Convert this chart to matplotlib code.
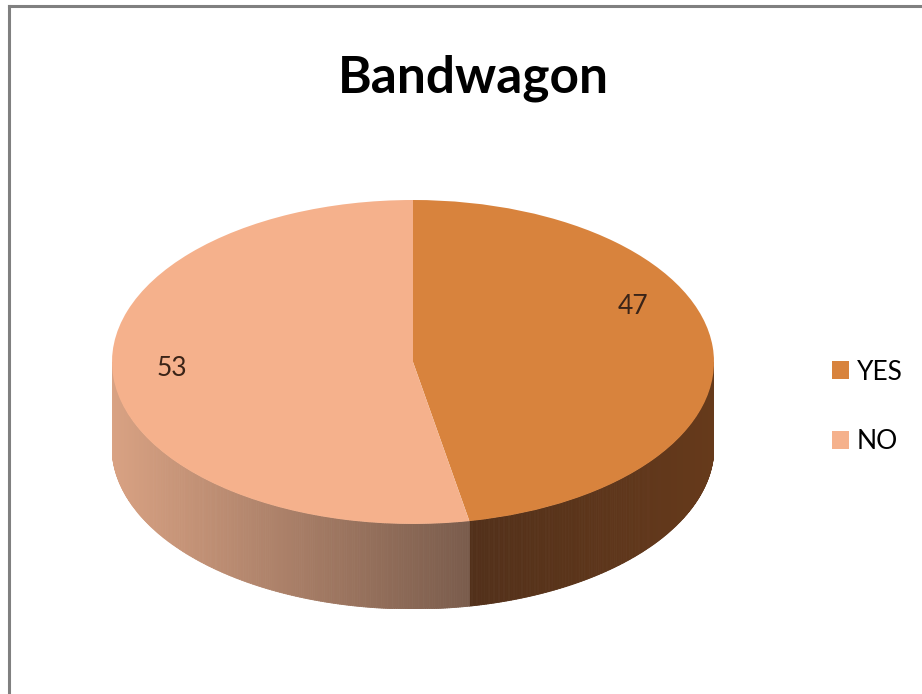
import matplotlib.pyplot as plt
import numpy as np
from matplotlib.collections import PolyCollection
from matplotlib.colors import to_rgb
from matplotlib.lines import Line2D

labels = ['YES', 'NO']
values = [47, 53]
top_colors = ['#D8833D', '#F5B18C']
# rim shading: colour at the left end and right end of each slice's visible side
side_colors = [('#52301A', '#663A1B'), ('#D9A283', '#7A5C4C')]
label_pos = [(0.73, 0.345), (-0.80, -0.04)]

depth = 0.525  # thickness of the disc, in units of the vertical radius

fig = plt.figure(figsize=(9.22, 6.94), dpi=100)
fig.patch.set_facecolor('white')

# axes sized so the unit circle maps onto the flattened top face
ax = fig.add_axes([112 / 922, (694 - 609) / 694, 602 / 922, 409 / 694])

wedges, _ = ax.pie(values, colors=top_colors, startangle=90, counterclock=False,
                   radius=1, wedgeprops=dict(linewidth=0, zorder=3))
ax.set_aspect('auto')
ax.set_xlim(-1, 1)
ax.set_ylim(-1 - depth, 1)
ax.axis('off')

# side wall of the disc, only the front half (angles -180..0) is visible
fracs = np.array(values) / sum(values)
start = 90.0
for frac, (c0, c1) in zip(fracs, side_colors):
    hi = start
    lo = start - frac * 360
    start = lo
    for shift in (0, 360, -360):
        a = max(lo + shift, -180)
        b = min(hi + shift, 0)
        if a >= b:
            continue
        t = np.radians(np.linspace(a, b, 240))
        xs, ys = np.cos(t), np.sin(t)
        # colour follows horizontal position across the slice
        x_lo, x_hi = xs.min(), xs.max()
        rgb0, rgb1 = np.array(to_rgb(c0)), np.array(to_rgb(c1))
        polys, cols = [], []
        for i in range(len(t) - 1):
            polys.append([(xs[i], ys[i]), (xs[i + 1], ys[i + 1]),
                          (xs[i + 1], ys[i + 1] - depth), (xs[i], ys[i] - depth)])
            f = ((xs[i] + xs[i + 1]) / 2 - x_lo) / (x_hi - x_lo)
            cols.append(rgb0 + (rgb1 - rgb0) * f)
        pc = PolyCollection(polys, facecolors=cols, edgecolors=cols,
                            linewidths=0.6, zorder=2)
        ax.add_collection(pc)

for v, (lx, ly) in zip(values, label_pos):
    ax.text(lx, ly, str(v), ha='center', va='center', fontsize=19,
            family='Lato', color='#3A2418', zorder=5)

ax.legend(wedges, labels, loc='center left', bbox_to_anchor=(832 / 922, 1 - 407 / 694),
          bbox_transform=fig.transFigure, frameon=False, borderpad=0, borderaxespad=0,
          prop={'family': 'Lato', 'size': 19},
          handlelength=0.65, handleheight=0.65, handletextpad=0.3, labelspacing=1.7)

fig.text(473 / 922, 1 - 78 / 694, 'Bandwagon', ha='center', va='center',
         fontsize=37, fontweight='bold', family='Lato', color='black')

# chart area frame (top and left edges)
fig.add_artist(Line2D([9 / 922, 9 / 922], [0, 1 - 6 / 694], color='#808080', lw=2.2))
fig.add_artist(Line2D([9 / 922, 1], [1 - 6 / 694, 1 - 6 / 694], color='#808080', lw=2.2))

fig.savefig('out.png', dpi=100)
